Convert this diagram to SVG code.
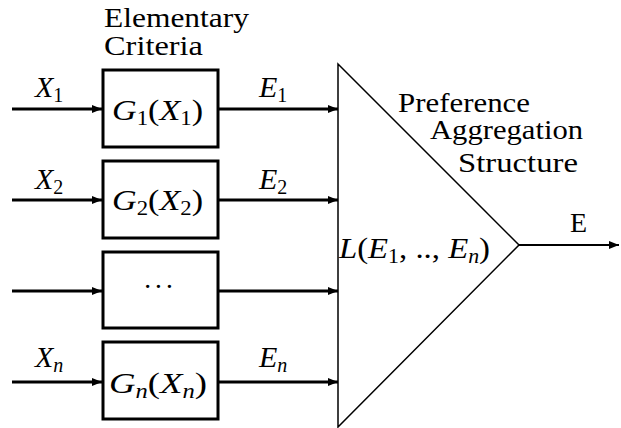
<svg xmlns="http://www.w3.org/2000/svg" width="621" height="428" viewBox="0 0 621 428">
<style>
text{font-family:"Liberation Serif","Times New Roman",serif;fill:#000}
.t{font-size:28px}
.m{font-size:30px;font-style:italic}
.s{font-size:20px;font-style:normal}
.si{font-size:20px;font-style:italic}
.n{font-style:normal}
.box{fill:#fff;stroke:#000;stroke-width:3}
.in{stroke:#000;stroke-width:3;fill:none}
.out{stroke:#000;stroke-width:2;fill:none}
</style>
<defs>
<marker id="ah" viewBox="0 0 10 8" refX="10" refY="4" markerWidth="10" markerHeight="8" markerUnits="userSpaceOnUse" orient="auto">
<path d="M0,0 L10,4 L0,8 z" fill="#000"/>
</marker>
</defs>
<rect width="621" height="428" fill="#fff"/>
<g id="connectors">
<line class="in" x1="12" y1="109" x2="102" y2="109" marker-end="url(#ah)"/>
<line class="in" x1="12" y1="200" x2="102" y2="200" marker-end="url(#ah)"/>
<line class="in" x1="12" y1="291" x2="102" y2="291" marker-end="url(#ah)"/>
<line class="in" x1="12" y1="382" x2="102" y2="382" marker-end="url(#ah)"/>
<line class="in" x1="218" y1="109" x2="338" y2="109" marker-end="url(#ah)"/>
<line class="in" x1="218" y1="200" x2="338" y2="200" marker-end="url(#ah)"/>
<line class="in" x1="218" y1="291" x2="338" y2="291" marker-end="url(#ah)"/>
<line class="in" x1="218" y1="382" x2="338" y2="382" marker-end="url(#ah)"/>
<line class="out" x1="519" y1="245" x2="619" y2="245" marker-end="url(#ah)"/>
</g>
<g id="labels" font-family="Liberation Serif">
<text class="t" x="104" y="27" textLength="145" lengthAdjust="spacingAndGlyphs">Elementary</text>
<text class="t" x="104" y="55" textLength="99" lengthAdjust="spacingAndGlyphs">Criteria</text>
<text class="m" x="35" y="97">X<tspan class="s" dy="5">1</tspan></text>
<text class="m" x="259" y="97">E<tspan class="s" dy="5">1</tspan></text>
<text class="m" x="35" y="189">X<tspan class="s" dy="5">2</tspan></text>
<text class="m" x="259" y="189">E<tspan class="s" dy="5">2</tspan></text>
<text class="m" x="35" y="367">X<tspan class="si" dy="5">n</tspan></text>
<text class="m" x="259" y="367">E<tspan class="si" dy="5">n</tspan></text>
<text class="t" x="570" y="232">E</text>
</g>
<g id="g1" font-family="Liberation Serif">
<rect class="box" x="103" y="70" width="115" height="77"/>
<text class="m" x="112" y="120" textLength="91" lengthAdjust="spacingAndGlyphs">G<tspan class="s" dy="5">1</tspan><tspan class="n" dy="-5">(</tspan>X<tspan class="s" dy="5">1</tspan><tspan class="n" dy="-5">)</tspan></text>
</g>
<g id="g2" font-family="Liberation Serif">
<rect class="box" x="103" y="161" width="115" height="77"/>
<text class="m" x="112" y="210" textLength="91" lengthAdjust="spacingAndGlyphs">G<tspan class="s" dy="5">2</tspan><tspan class="n" dy="-5">(</tspan>X<tspan class="s" dy="5">2</tspan><tspan class="n" dy="-5">)</tspan></text>
</g>
<g id="g3" font-family="Liberation Serif">
<rect class="box" x="103" y="252" width="115" height="76"/>
<text class="t" x="143" y="296" textLength="31">· · ·</text>
</g>
<g id="gn" font-family="Liberation Serif">
<rect class="box" x="103" y="342" width="115" height="77"/>
<text class="m" x="109" y="393" textLength="98" lengthAdjust="spacingAndGlyphs">G<tspan class="si" dy="5">n</tspan><tspan class="n" dy="-5">(</tspan>X<tspan class="si" dy="5">n</tspan><tspan class="n" dy="-5">)</tspan></text>
</g>
<g id="aggregation" font-family="Liberation Serif">
<path d="M338,64 L519,245 L338,427 Z" fill="none" stroke="#000" stroke-width="1.5"/>
<text class="t" x="398" y="112" textLength="132" lengthAdjust="spacingAndGlyphs">Preference</text>
<text class="t" x="430" y="139" textLength="153" lengthAdjust="spacingAndGlyphs">Aggregation</text>
<text class="t" x="458" y="172" textLength="120" lengthAdjust="spacingAndGlyphs">Structure</text>
<text class="m" x="339" y="258" textLength="151" lengthAdjust="spacingAndGlyphs">L<tspan class="n">(</tspan>E<tspan class="s" dy="5">1</tspan><tspan class="n" dy="-5">, .., </tspan>E<tspan class="si" dy="5">n</tspan><tspan class="n" dy="-5">)</tspan></text>
</g>
</svg>
